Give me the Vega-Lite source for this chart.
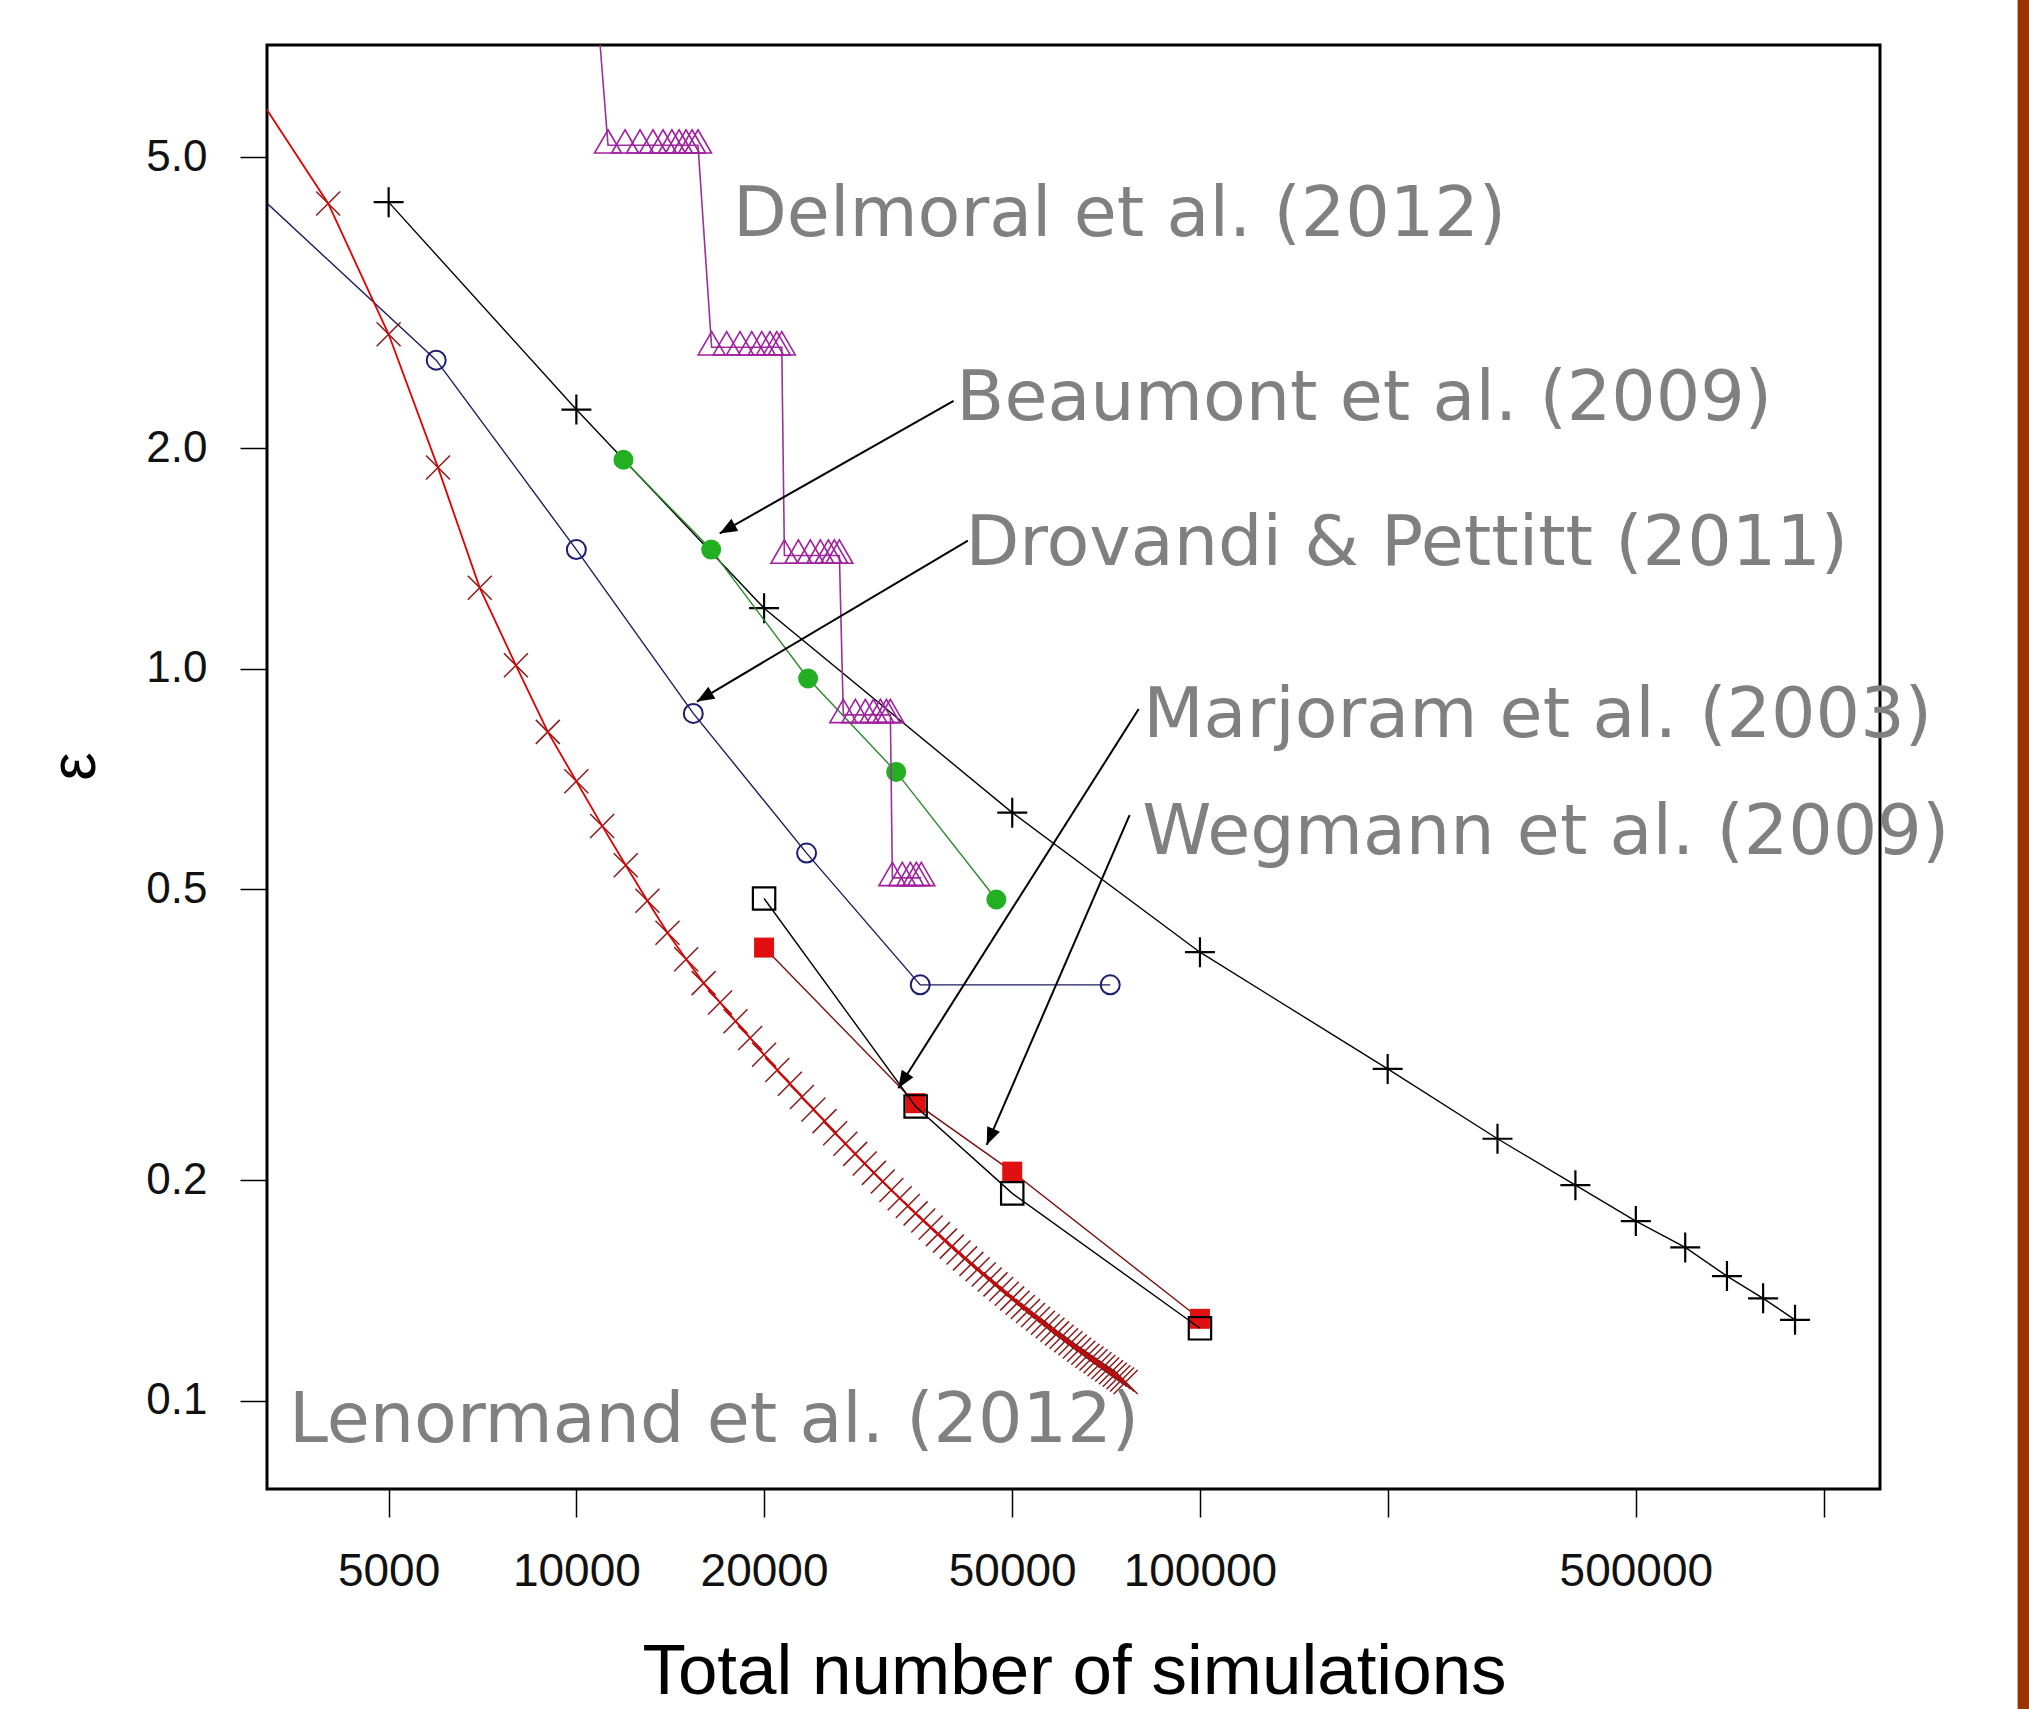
{
  "$schema": "https://vega.github.io/schema/vega-lite/v6.json",
  "width": 1613,
  "height": 1444,
  "autosize": {"type": "none"},
  "padding": {"left": 267, "top": 45, "right": 149, "bottom": 220},
  "background": "white",
  "config": {"view": {"stroke": "black", "strokeWidth": 3}},
  "datasets": {
    "pts": [
      {"s": "rej", "n": 5000, "eps": 4.34},
      {"s": "rej", "n": 10000, "eps": 2.26},
      {"s": "rej", "n": 20000, "eps": 1.21},
      {"s": "rej", "n": 50000, "eps": 0.636},
      {"s": "rej", "n": 100000, "eps": 0.41},
      {"s": "rej", "n": 200000, "eps": 0.284},
      {"s": "rej", "n": 300000, "eps": 0.228},
      {"s": "rej", "n": 400000, "eps": 0.197},
      {"s": "rej", "n": 500000, "eps": 0.176},
      {"s": "rej", "n": 600000, "eps": 0.162},
      {"s": "rej", "n": 700000, "eps": 0.148},
      {"s": "rej", "n": 800000, "eps": 0.138},
      {"s": "rej", "n": 900000, "eps": 0.129},

      {"s": "drov", "n": 3000, "eps": 4.54},
      {"s": "drov", "n": 5960, "eps": 2.64},
      {"s": "drov", "n": 10000, "eps": 1.455},
      {"s": "drov", "n": 15400, "eps": 0.869},
      {"s": "drov", "n": 23400, "eps": 0.56},
      {"s": "drov", "n": 35600, "eps": 0.37},
      {"s": "drov", "n": 71800, "eps": 0.37},

      {"s": "beau", "n": 11900, "eps": 1.93},
      {"s": "beau", "n": 16450, "eps": 1.455},
      {"s": "beau", "n": 23530, "eps": 0.97},
      {"s": "beau", "n": 32570, "eps": 0.723},
      {"s": "beau", "n": 47150, "eps": 0.484},

      {"s": "del", "n": 10580, "eps": 10.0},
      {"s": "del", "n": 11240, "eps": 5.19},
      {"s": "del", "n": 11970, "eps": 5.19},
      {"s": "del", "n": 12650, "eps": 5.19},
      {"s": "del", "n": 13270, "eps": 5.19},
      {"s": "del", "n": 13770, "eps": 5.19},
      {"s": "del", "n": 14230, "eps": 5.19},
      {"s": "del", "n": 14610, "eps": 5.19},
      {"s": "del", "n": 14990, "eps": 5.19},
      {"s": "del", "n": 15330, "eps": 5.19},
      {"s": "del", "n": 15670, "eps": 5.19},
      {"s": "del", "n": 16480, "eps": 2.75},
      {"s": "del", "n": 17420, "eps": 2.75},
      {"s": "del", "n": 18300, "eps": 2.75},
      {"s": "del", "n": 19110, "eps": 2.75},
      {"s": "del", "n": 19830, "eps": 2.75},
      {"s": "del", "n": 20440, "eps": 2.75},
      {"s": "del", "n": 20960, "eps": 2.75},
      {"s": "del", "n": 21350, "eps": 2.75},
      {"s": "del", "n": 21560, "eps": 1.428},
      {"s": "del", "n": 22700, "eps": 1.428},
      {"s": "del", "n": 23730, "eps": 1.428},
      {"s": "del", "n": 24620, "eps": 1.428},
      {"s": "del", "n": 25360, "eps": 1.428},
      {"s": "del", "n": 25920, "eps": 1.428},
      {"s": "del", "n": 26410, "eps": 1.428},
      {"s": "del", "n": 26800, "eps": 0.865},
      {"s": "del", "n": 28020, "eps": 0.865},
      {"s": "del", "n": 29070, "eps": 0.865},
      {"s": "del", "n": 29950, "eps": 0.865},
      {"s": "del", "n": 30730, "eps": 0.865},
      {"s": "del", "n": 31420, "eps": 0.865},
      {"s": "del", "n": 31880, "eps": 0.865},
      {"s": "del", "n": 32120, "eps": 0.518},
      {"s": "del", "n": 33320, "eps": 0.518},
      {"s": "del", "n": 34320, "eps": 0.518},
      {"s": "del", "n": 35090, "eps": 0.518},
      {"s": "del", "n": 35740, "eps": 0.518},

      {"s": "weg", "n": 20000, "eps": 0.416},
      {"s": "weg", "n": 35000, "eps": 0.255},
      {"s": "weg", "n": 50000, "eps": 0.2056},
      {"s": "weg", "n": 100000, "eps": 0.1294},

      {"s": "marj", "n": 20000, "eps": 0.4855},
      {"s": "marj", "n": 35000, "eps": 0.2524},
      {"s": "marj", "n": 50000, "eps": 0.192},
      {"s": "marj", "n": 100000, "eps": 0.1256},

      {"s": "len", "n": 3000, "eps": 6.29},
      {"s": "len", "n": 4000, "eps": 4.322},
      {"s": "len", "n": 5000, "eps": 2.864},
      {"s": "len", "n": 6000, "eps": 1.883},
      {"s": "len", "n": 7000, "eps": 1.29},
      {"s": "len", "n": 8000, "eps": 1.011},
      {"s": "len", "n": 9000, "eps": 0.82},
      {"s": "len", "n": 10000, "eps": 0.702},
      {"s": "len", "n": 11000, "eps": 0.61},
      {"s": "len", "n": 12000, "eps": 0.539},
      {"s": "len", "n": 13000, "eps": 0.482},
      {"s": "len", "n": 14000, "eps": 0.436},
      {"s": "len", "n": 15000, "eps": 0.401},
      {"s": "len", "n": 16000, "eps": 0.372},
      {"s": "len", "n": 17000, "eps": 0.35},
      {"s": "len", "n": 18000, "eps": 0.33},
      {"s": "len", "n": 19000, "eps": 0.313},
      {"s": "len", "n": 20000, "eps": 0.297},
      {"s": "len", "n": 21000, "eps": 0.283},
      {"s": "len", "n": 22000, "eps": 0.271},
      {"s": "len", "n": 23000, "eps": 0.26},
      {"s": "len", "n": 24000, "eps": 0.25},
      {"s": "len", "n": 25000, "eps": 0.241},
      {"s": "len", "n": 26000, "eps": 0.232},
      {"s": "len", "n": 27000, "eps": 0.2245},
      {"s": "len", "n": 28000, "eps": 0.2174},
      {"s": "len", "n": 29000, "eps": 0.2109},
      {"s": "len", "n": 30000, "eps": 0.2048},
      {"s": "len", "n": 31000, "eps": 0.1993},
      {"s": "len", "n": 32000, "eps": 0.194},
      {"s": "len", "n": 33000, "eps": 0.1891},
      {"s": "len", "n": 34000, "eps": 0.1845},
      {"s": "len", "n": 35000, "eps": 0.1803},
      {"s": "len", "n": 36000, "eps": 0.1763},
      {"s": "len", "n": 37000, "eps": 0.1725},
      {"s": "len", "n": 38000, "eps": 0.1689},
      {"s": "len", "n": 39000, "eps": 0.1655},
      {"s": "len", "n": 40000, "eps": 0.1624},
      {"s": "len", "n": 41000, "eps": 0.1594},
      {"s": "len", "n": 42000, "eps": 0.1565},
      {"s": "len", "n": 43000, "eps": 0.1538},
      {"s": "len", "n": 44000, "eps": 0.1512},
      {"s": "len", "n": 45000, "eps": 0.1488},
      {"s": "len", "n": 46000, "eps": 0.1464},
      {"s": "len", "n": 47000, "eps": 0.1442},
      {"s": "len", "n": 48000, "eps": 0.1421},
      {"s": "len", "n": 49000, "eps": 0.14},
      {"s": "len", "n": 50000, "eps": 0.138},
      {"s": "len", "n": 51000, "eps": 0.1361},
      {"s": "len", "n": 52000, "eps": 0.1343},
      {"s": "len", "n": 53000, "eps": 0.1326},
      {"s": "len", "n": 54000, "eps": 0.131},
      {"s": "len", "n": 55000, "eps": 0.1294},
      {"s": "len", "n": 56000, "eps": 0.1278},
      {"s": "len", "n": 57000, "eps": 0.1264},
      {"s": "len", "n": 58000, "eps": 0.125},
      {"s": "len", "n": 59000, "eps": 0.1236},
      {"s": "len", "n": 60000, "eps": 0.1223},
      {"s": "len", "n": 61000, "eps": 0.121},
      {"s": "len", "n": 62000, "eps": 0.1198},
      {"s": "len", "n": 63000, "eps": 0.1186},
      {"s": "len", "n": 64000, "eps": 0.1174},
      {"s": "len", "n": 65000, "eps": 0.1163},
      {"s": "len", "n": 66000, "eps": 0.1152},
      {"s": "len", "n": 67000, "eps": 0.1142},
      {"s": "len", "n": 68000, "eps": 0.1132},
      {"s": "len", "n": 69000, "eps": 0.1122},
      {"s": "len", "n": 70000, "eps": 0.1112},
      {"s": "len", "n": 71000, "eps": 0.1103},
      {"s": "len", "n": 72000, "eps": 0.1094},
      {"s": "len", "n": 73000, "eps": 0.1085},
      {"s": "len", "n": 74000, "eps": 0.1077},
      {"s": "len", "n": 75000, "eps": 0.1069},
      {"s": "len", "n": 76000, "eps": 0.1061}
    ],
    "arr": [
      {"lab": "beau", "n": 40270, "eps": 2.322, "n2": 16980, "eps2": 1.531},
      {"lab": "drov", "n": 42450, "eps": 1.496, "n2": 15610, "eps2": 0.902},
      {"lab": "marj", "n": 79750, "eps": 0.881, "n2": 32830, "eps2": 0.2673},
      {"lab": "weg", "n": 77120, "eps": 0.631, "n2": 45500, "eps2": 0.2236}
    ],
    "labs": [
      {"t": "Delmoral et al. (2012)", "n": 17830, "eps": 3.902},
      {"t": "Beaumont et al. (2009)", "n": 40680, "eps": 2.184},
      {"t": "Drovandi & Pettitt (2011)", "n": 42060, "eps": 1.384},
      {"t": "Marjoram et al. (2003)", "n": 81080, "eps": 0.806},
      {"t": "Wegmann et al. (2009)", "n": 80780, "eps": 0.5589},
      {"t": "Lenormand et al. (2012)", "n": 3460, "eps": 0.0877}
    ],
    "deco": [
      {"n": 2093000, "n2": 100000000, "eps": 0.001, "eps2": 1000}
    ]
  },
  "encoding": {
    "x": {
      "field": "n", "type": "quantitative",
      "scale": {"type": "log", "domain": [3191, 1231700], "nice": false, "zero": false},
      "axis": {
        "values": [5000, 10000, 20000, 50000, 100000, 200000, 500000, 1000000],
        "labelExpr": "(datum.value == 200000 || datum.value == 1000000) ? '' : datum.value",
        "domain": false, "grid": false,
        "tickSize": 28, "tickWidth": 1.5, "tickColor": "black",
        "labelFont": "Liberation Sans", "labelFontSize": 46, "labelColor": "#111111",
        "labelPadding": 32, "labelFlush": false, "labelOverlap": false,
        "title": "Total number of simulations",
        "titleFont": "Liberation Sans", "titleFontSize": 71, "titleFontWeight": "normal",
        "titleColor": "black", "titleX": 807, "titleY": 204,
        "titleAlign": "center", "titleBaseline": "alphabetic"
      }
    },
    "y": {
      "field": "eps", "type": "quantitative",
      "scale": {"type": "log", "domain": [0.07576, 7.115], "nice": false, "zero": false},
      "axis": {
        "values": [0.1, 0.2, 0.5, 1, 2, 5],
        "format": ".1f",
        "domain": false, "grid": false,
        "tickSize": 27, "tickWidth": 1.5, "tickColor": "black",
        "labelFont": "Liberation Sans", "labelFontSize": 44, "labelColor": "#111111",
        "labelPadding": 33, "labelOverlap": false,
        "title": "ε",
        "titleFont": "Liberation Sans", "titleFontSize": 64, "titleFontWeight": "normal",
        "titleColor": "black", "titleAngle": -90, "titleX": -192, "titleY": 721,
        "titleAlign": "center", "titleBaseline": "middle"
      }
    }
  },
  "layer": [
    {
      "data": {"name": "pts"},
      "transform": [{"filter": "datum.s == 'rej'"}],
      "mark": {"type": "line", "color": "black", "strokeWidth": 1.4, "clip": true}
    },
    {
      "data": {"name": "pts"},
      "transform": [{"filter": "datum.s == 'rej'"}],
      "mark": {"type": "point", "shape": "M-1,0L1,0M0,-1L0,1", "filled": false, "stroke": "black", "strokeWidth": 2.2, "size": 900, "opacity": 1, "clip": true}
    },
    {
      "data": {"name": "pts"},
      "transform": [{"filter": "datum.s == 'drov'"}],
      "mark": {"type": "line", "color": "#1c1c5e", "strokeWidth": 1.4, "clip": true}
    },
    {
      "data": {"name": "pts"},
      "transform": [{"filter": "datum.s == 'drov'"}],
      "mark": {"type": "point", "shape": "circle", "filled": false, "stroke": "#1c1c70", "strokeWidth": 2, "size": 361, "opacity": 1, "clip": true}
    },
    {
      "data": {"name": "pts"},
      "transform": [{"filter": "datum.s == 'beau'"}],
      "mark": {"type": "line", "color": "#2a8a2a", "strokeWidth": 1.4, "clip": true}
    },
    {
      "data": {"name": "pts"},
      "transform": [{"filter": "datum.s == 'beau'"}],
      "mark": {"type": "point", "shape": "circle", "filled": true, "fill": "#22b022", "size": 400, "opacity": 1, "clip": true}
    },
    {
      "data": {"name": "pts"},
      "transform": [{"filter": "datum.s == 'del'"}],
      "mark": {"type": "line", "color": "#993399", "strokeWidth": 1.6, "clip": true}
    },
    {
      "data": {"name": "pts"},
      "transform": [{"filter": "datum.s == 'del'"}],
      "mark": {"type": "point", "shape": "M0,-1.555L1.347,0.778L-1.347,0.778Z", "filled": false, "stroke": "#a020a0", "strokeWidth": 1.6, "size": 400, "opacity": 1, "clip": true}
    },
    {
      "data": {"name": "pts"},
      "transform": [{"filter": "datum.s == 'weg'"}],
      "mark": {"type": "line", "color": "#7a1010", "strokeWidth": 1.4, "clip": true}
    },
    {
      "data": {"name": "pts"},
      "transform": [{"filter": "datum.s == 'weg'"}],
      "mark": {"type": "point", "shape": "square", "filled": true, "fill": "#e01010", "size": 400, "opacity": 1, "clip": true}
    },
    {
      "data": {"name": "pts"},
      "transform": [{"filter": "datum.s == 'marj'"}],
      "mark": {"type": "line", "color": "black", "strokeWidth": 1.4, "clip": true}
    },
    {
      "data": {"name": "pts"},
      "transform": [{"filter": "datum.s == 'marj'"}],
      "mark": {"type": "point", "shape": "square", "filled": false, "stroke": "black", "strokeWidth": 2.2, "size": 500, "opacity": 1, "clip": true}
    },
    {
      "data": {"name": "pts"},
      "transform": [{"filter": "datum.s == 'len'"}],
      "mark": {"type": "point", "shape": "M-1,-1L1,1M-1,1L1,-1", "filled": false, "stroke": "#8b1a1a", "strokeWidth": 1.5, "size": 576, "opacity": 1, "clip": true}
    },
    {
      "data": {"name": "pts"},
      "transform": [{"filter": "datum.s == 'len'"}],
      "mark": {"type": "line", "color": "#e00000", "strokeWidth": 1.8, "clip": true}
    },
    {
      "data": {"name": "arr"},
      "mark": {"type": "rule", "color": "black", "strokeWidth": 2},
      "encoding": {
        "x2": {"field": "n2"},
        "y2": {"field": "eps2"}
      }
    },
    {
      "data": {"name": "arr"},
      "transform": [{"filter": "datum.lab == 'beau'"}],
      "mark": {"type": "point", "shape": "M0,0L-0.8,2L0.8,2Z", "filled": true, "fill": "black", "size": 300, "opacity": 1, "angle": 240.5},
      "encoding": {"x": {"field": "n2", "type": "quantitative"}, "y": {"field": "eps2", "type": "quantitative"}}
    },
    {
      "data": {"name": "arr"},
      "transform": [{"filter": "datum.lab == 'drov'"}],
      "mark": {"type": "point", "shape": "M0,0L-0.8,2L0.8,2Z", "filled": true, "fill": "black", "size": 300, "opacity": 1, "angle": 239.3},
      "encoding": {"x": {"field": "n2", "type": "quantitative"}, "y": {"field": "eps2", "type": "quantitative"}}
    },
    {
      "data": {"name": "arr"},
      "transform": [{"filter": "datum.lab == 'marj'"}],
      "mark": {"type": "point", "shape": "M0,0L-0.8,2L0.8,2Z", "filled": true, "fill": "black", "size": 300, "opacity": 1, "angle": 212.4},
      "encoding": {"x": {"field": "n2", "type": "quantitative"}, "y": {"field": "eps2", "type": "quantitative"}}
    },
    {
      "data": {"name": "arr"},
      "transform": [{"filter": "datum.lab == 'weg'"}],
      "mark": {"type": "point", "shape": "M0,0L-0.8,2L0.8,2Z", "filled": true, "fill": "black", "size": 300, "opacity": 1, "angle": 203.4},
      "encoding": {"x": {"field": "n2", "type": "quantitative"}, "y": {"field": "eps2", "type": "quantitative"}}
    },
    {
      "data": {"name": "labs"},
      "mark": {"type": "text", "align": "left", "baseline": "alphabetic", "font": "DejaVu Sans", "fontSize": 70, "color": "#808080"},
      "encoding": {"text": {"field": "t"}}
    },
    {
      "data": {"name": "deco"},
      "mark": {"type": "rule", "color": "#993300", "strokeWidth": 12, "clip": false},
      "encoding": {
        "x": {"field": "n", "type": "quantitative"},
        "y": {"field": "eps", "type": "quantitative"},
        "y2": {"field": "eps2"}
      }
    }
  ]
}
